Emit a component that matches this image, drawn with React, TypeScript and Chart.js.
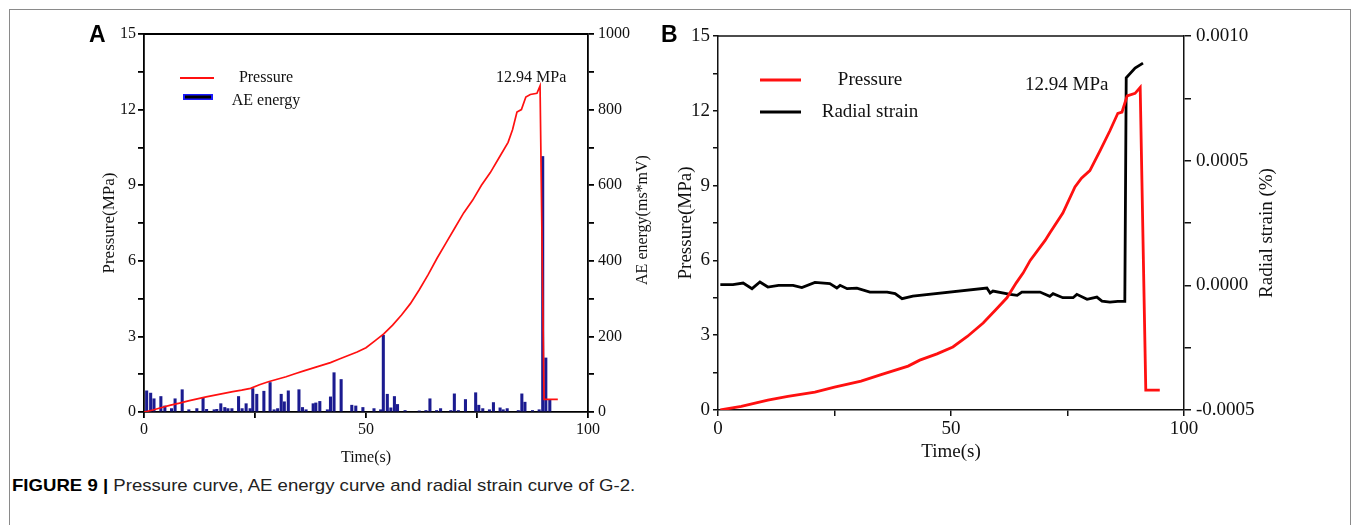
import React, { useEffect, useRef } from "react";
import { Chart, registerables } from "chart.js";

Chart.register(...registerables);

const SERIF = '"Liberation Serif", "Times New Roman", serif';
const SANS = '"Liberation Sans", Arial, sans-serif';

// ---------- Panel A: pressure (MPa) vs time (s) ----------
const timeA = [0, 2, 4, 6, 8, 10, 12, 14, 16, 18, 20, 22, 24, 26, 28, 30, 32, 34, 36, 38, 40, 42, 44, 46, 48, 50, 52, 54, 56, 58, 60, 62, 64, 66, 68, 70, 72, 74, 76, 78, 80, 82, 83, 84, 85, 86, 87, 88.5, 89.2, 90.1, 93.2];
const pressureA = [0, 0.08, 0.18, 0.27, 0.35, 0.44, 0.52, 0.6, 0.67, 0.74, 0.81, 0.87, 0.94, 1.08, 1.2, 1.3, 1.4, 1.52, 1.63, 1.74, 1.85, 1.96, 2.1, 2.24, 2.38, 2.55, 2.82, 3.1, 3.45, 3.85, 4.3, 4.85, 5.45, 6.1, 6.7, 7.3, 7.9, 8.4, 9.0, 9.5, 10.1, 10.7, 11.2, 11.9, 12.0, 12.5, 12.6, 12.65, 12.94, 0.5, 0.5];

// AE energy (ms*mV) bars
const aeTime = [0.6, 1.5, 2.25, 3.8, 4.7, 6.2, 7.0, 8.6, 10.1, 11.9, 13.3, 14.1, 15.8, 16.4, 17.3, 18.2, 18.9, 19.8, 21.3, 22.1, 23.0, 23.9, 24.5, 25.4, 27.0, 28.4, 29.3, 30.1, 30.9, 31.6, 32.5, 34.9, 35.7, 36.5, 38.1, 38.7, 39.6, 41.3, 42.0, 42.8, 44.4, 46.8, 47.7, 49.3, 51.8, 53.3, 53.9, 54.8, 55.6, 56.4, 57.1, 58.8, 62.0, 63.5, 64.4, 65.9, 66.8, 69.1, 69.9, 70.8, 72.4, 74.7, 75.4, 76.3, 77.8, 78.7, 80.2, 80.9, 81.8, 84.3, 85.1, 85.8, 87.5, 89.0, 89.8, 90.5, 91.4];
const aeEnergy = [56, 50, 35, 41, 16, 9, 35, 59, 6, 9, 37, 7, 6, 7, 22, 12, 9, 9, 41, 9, 22, 9, 62, 47, 55, 78, 6, 9, 47, 27, 56, 59, 12, 6, 22, 24, 28, 6, 40, 104, 86, 18, 16, 12, 9, 6, 203, 47, 11, 41, 20, 4, 3, 4, 35, 4, 9, 4, 48, 4, 33, 51, 18, 9, 6, 25, 11, 6, 9, 4, 48, 26, 4, 6, 676, 143, 31];

// ---------- Panel B: pressure (MPa) and radial strain (%) vs time (s) ----------
const timeB = [0.5, 5, 10.7, 15, 20.8, 25, 30.7, 35, 40.8, 43.3, 47, 50.4, 53.5, 56.9, 59.5, 62, 64, 65.5, 67, 70.2, 71.2, 74, 76.6, 78, 79.8, 82, 84.1, 85.8, 86.7, 87.8, 89.5, 90.6, 91.8, 94.8];
const pressureB = [0, 0.15, 0.4, 0.55, 0.72, 0.92, 1.16, 1.42, 1.76, 2.0, 2.25, 2.53, 2.95, 3.49, 4.0, 4.5, 5.1, 5.5, 6.0, 6.8, 7.1, 7.9, 8.95, 9.3, 9.6, 10.4, 11.2, 11.9, 11.95, 12.6, 12.7, 12.94, 0.8, 0.8];

const strainTime = [0.5, 3.2, 5.4, 7.3, 9.0, 10.7, 13.0, 16.1, 18.0, 20.8, 24.0, 25.5, 26.2, 27.7, 29.8, 32.6, 36.3, 38.0, 39.5, 41.8, 57.7, 58.4, 59.0, 62.7, 64.2, 65.2, 69.1, 71.2, 71.9, 74.0, 76.2, 77.0, 79.2, 81.3, 82.4, 84.1, 85.8, 87.3, 87.6, 89.5, 91.2];
const radialStrain = [0.0000028, 0.0000028, 0.0000093, -0.0000133, 0.0000133, -0.0000068, 0, 0, -0.0000092, 0.000012, 0.0000068, -0.0000109, 0, -0.0000133, -0.0000109, -0.000027, -0.000027, -0.0000334, -0.0000535, -0.000043, -0.0000109, -0.000031, -0.000023, -0.0000362, -0.00004, -0.000027, -0.000027, -0.000044, -0.0000334, -0.0000495, -0.0000495, -0.0000362, -0.0000563, -0.000047, -0.0000631, -0.0000672, -0.0000643, -0.0000643, 0.000832, 0.000871, 0.000891];

// tick labels
const timeTickLabels = ["0", "50", "100"];
const pressureTickLabels = ["0", "3", "6", "9", "12", "15"];
const aeTickLabels = ["0", "200", "400", "600", "800", "1000"];
const strainTickLabels = ["-0.0005", "0.0000", "0.0005", "0.0010"];

const peakLabel = "12.94 MPa";

const RED = "#ff1010";
const NAVY = "#1b1b90";
const near = (v: number, step: number) => Math.abs(v / step - Math.round(v / step)) < 1e-6;

function labelFrom(list: string[], v: number, step: number, fmt: (n: number) => string) {
  if (!near(v, step)) return "";
  const s = fmt(v);
  return list.includes(s) ? s : "";
}

const overlayA = {
  id: "overlayA",
  afterDraw(chart: any) {
    const { ctx, chartArea: ca } = chart;
    ctx.save();
    ctx.strokeStyle = "#000";
    ctx.lineWidth = 1.8;
    ctx.beginPath();
    ctx.moveTo(ca.left, ca.top);
    ctx.lineTo(ca.right, ca.top);
    ctx.stroke();
    // legend
    ctx.strokeStyle = RED;
    ctx.lineWidth = 1.8;
    ctx.beginPath();
    ctx.moveTo(120, 64);
    ctx.lineTo(154, 64);
    ctx.stroke();
    ctx.fillStyle = "#1a1aff";
    ctx.fillRect(123, 80, 30, 6);
    ctx.fillStyle = "#000";
    ctx.fillRect(125, 81.5, 26, 3);
    ctx.font = `16px ${SERIF}`;
    ctx.fillStyle = "#111";
    ctx.textAlign = "center";
    ctx.textBaseline = "middle";
    ctx.fillText("Pressure", 206, 64);
    ctx.fillText("AE energy", 206, 87);
    ctx.textAlign = "left";
    ctx.fillText(peakLabel, 436, 64);
    // right axis title (reads bottom-to-top)
    ctx.translate(583, 206);
    ctx.rotate(-Math.PI / 2);
    ctx.textAlign = "center";
    ctx.fillText("AE energy(ms*mV)", 0, 0);
    ctx.restore();
  },
};

const overlayB = {
  id: "overlayB",
  afterDraw(chart: any) {
    const { ctx, chartArea: ca } = chart;
    ctx.save();
    ctx.strokeStyle = "#111";
    ctx.lineWidth = 1.5;
    ctx.beginPath();
    ctx.moveTo(ca.left, ca.top);
    ctx.lineTo(ca.right, ca.top);
    ctx.stroke();
    ctx.lineWidth = 3;
    ctx.strokeStyle = RED;
    ctx.beginPath();
    ctx.moveTo(90, 66);
    ctx.lineTo(131, 66);
    ctx.stroke();
    ctx.strokeStyle = "#000";
    ctx.beginPath();
    ctx.moveTo(90, 98);
    ctx.lineTo(131, 98);
    ctx.stroke();
    ctx.font = `19px ${SERIF}`;
    ctx.fillStyle = "#111";
    ctx.textAlign = "center";
    ctx.textBaseline = "middle";
    ctx.fillText("Pressure", 200, 66);
    ctx.fillText("Radial strain", 200, 98);
    ctx.textAlign = "left";
    ctx.fillText(peakLabel, 355, 71);
    ctx.translate(597, 219);
    ctx.rotate(-Math.PI / 2);
    ctx.textAlign = "center";
    ctx.fillText("Radial strain (%)", 0, 0);
    ctx.restore();
  },
};

function axisBase(size: number, lw: number, color: string, tickLen: number, pad: number) {
  return {
    grid: { drawOnChartArea: false, drawTicks: true, tickLength: tickLen, color, lineWidth: lw, offset: false },
    border: { display: true, color, width: lw },
    ticks: { font: { family: SERIF, size }, color: "#111", padding: pad, autoSkip: false, maxRotation: 0, includeBounds: true },
  };
}

function makeConfigA(): any {
  const fA = 16;
  const xb = axisBase(fA, 1.8, "#000", 6, 2);
  const yb = axisBase(fA, 1.8, "#000", 6, 2);
  const rb = axisBase(fA, 1.8, "#000", 6, 4);
  return {
    type: "bar",
    data: {
      datasets: [
        {
          type: "line",
          label: "Pressure",
          data: timeA.map((t, i) => ({ x: t, y: pressureA[i] })),
          yAxisID: "y",
          borderColor: RED,
          borderWidth: 1.7,
          pointRadius: 0,
          tension: 0,
          order: 0,
        },
        {
          type: "bar",
          label: "AE energy",
          data: aeTime.map((t, i) => ({ x: t, y: aeEnergy[i] })),
          yAxisID: "y1",
          backgroundColor: NAVY,
          barThickness: 2.4,
          order: 1,
        },
      ],
    },
    options: {
      animation: false,
      responsive: false,
      maintainAspectRatio: false,
      layout: { padding: { top: 20, left: 0, right: 0, bottom: 0 } },
      plugins: { legend: { display: false }, tooltip: { enabled: false } },
      scales: {
        x: {
          type: "linear",
          position: "bottom",
          min: 0,
          max: 100,
          offset: false,
          ...xb,
          ticks: { ...xb.ticks, stepSize: 25, callback: (v: number) => labelFrom(timeTickLabels, v, 50, (n) => String(Math.round(n))) },
          title: { display: true, text: "Time(s)", font: { family: SERIF, size: fA }, color: "#111", padding: { top: 0, bottom: 6.4 } },
          afterFit: (s: any) => { s.height = 62; },
        },
        y: {
          type: "linear",
          position: "left",
          min: 0,
          max: 15,
          ...yb,
          ticks: { ...yb.ticks, stepSize: 1.5, callback: (v: number) => labelFrom(pressureTickLabels, v, 3, (n) => String(Math.round(n))) },
          title: { display: true, text: "Pressure(MPa)", font: { family: SERIF, size: 17 }, color: "#111", padding: { top: 39.8, bottom: 0 } },
          afterFit: (s: any) => { s.width = 84; },
        },
        y1: {
          type: "linear",
          position: "right",
          min: 0,
          max: 1000,
          ...rb,
          ticks: { ...rb.ticks, stepSize: 100, callback: (v: number) => labelFrom(aeTickLabels, v, 200, (n) => String(Math.round(n))) },
          afterFit: (s: any) => { s.width = 82; },
        },
      },
    },
    plugins: [overlayA],
  };
}

function makeConfigB(): any {
  const fB = 19;
  const xb = axisBase(fB, 1.5, "#111", 6, 2);
  const yb = axisBase(fB, 1.5, "#111", 5, 3);
  const rb = axisBase(fB, 1.5, "#111", 7, 5);
  return {
    type: "line",
    data: {
      datasets: [
        {
          label: "Pressure",
          data: timeB.map((t, i) => ({ x: t, y: pressureB[i] })),
          yAxisID: "y",
          borderColor: RED,
          borderWidth: 2.8,
          pointRadius: 0,
          tension: 0,
        },
        {
          label: "Radial strain",
          data: strainTime.map((t, i) => ({ x: t, y: radialStrain[i] })),
          yAxisID: "y1",
          borderColor: "#000",
          borderWidth: 2.8,
          pointRadius: 0,
          tension: 0,
        },
      ],
    },
    options: {
      animation: false,
      responsive: false,
      maintainAspectRatio: false,
      layout: { padding: { top: 22, left: 0, right: 0, bottom: 0 } },
      plugins: { legend: { display: false }, tooltip: { enabled: false } },
      scales: {
        x: {
          type: "linear",
          position: "bottom",
          min: 0,
          max: 100,
          offset: false,
          ...xb,
          ticks: { ...xb.ticks, stepSize: 25, callback: (v: number) => labelFrom(timeTickLabels, v, 50, (n) => String(Math.round(n))) },
          title: { display: true, text: "Time(s)", font: { family: SERIF, size: fB }, color: "#111", padding: { top: 0, bottom: 10.6 } },
          afterFit: (s: any) => { s.height = 64; },
        },
        y: {
          type: "linear",
          position: "left",
          min: 0,
          max: 15,
          ...yb,
          ticks: { ...yb.ticks, stepSize: 1.5, callback: (v: number) => labelFrom(pressureTickLabels, v, 3, (n) => String(Math.round(n))) },
          title: { display: true, text: "Pressure(MPa)", font: { family: SERIF, size: fB }, color: "#111", padding: { top: 4.6, bottom: 0 } },
          afterFit: (s: any) => { s.width = 48; },
        },
        y1: {
          type: "linear",
          position: "right",
          min: -0.0005,
          max: 0.001,
          ...rb,
          ticks: { ...rb.ticks, stepSize: 0.00025, callback: (v: number) => labelFrom(strainTickLabels, v, 0.0005, (n) => (Math.abs(n) < 1e-9 ? 0 : n).toFixed(4)) },
          afterFit: (s: any) => { s.width = 156; },
        },
      },
    },
    plugins: [overlayB],
  };
}

function ChartCanvas({ make, left, top, width, height }: { make: () => any; left: number; top: number; width: number; height: number }) {
  const ref = useRef<HTMLCanvasElement | null>(null);
  useEffect(() => {
    if (!ref.current) return;
    const chart = new Chart(ref.current, make());
    return () => chart.destroy();
  }, []);
  return (
    <canvas
      ref={ref}
      width={width}
      height={height}
      style={{ position: "absolute", left, top, width, height }}
    />
  );
}

export default function App() {
  return (
    <div style={{ position: "absolute", left: 0, top: 0, width: 1355, height: 525, overflow: "hidden", background: "#fff" }}>
      <div style={{ position: "absolute", left: 9, top: 9, width: 1342, height: 700, border: "1.3px solid #8a8a8a", boxSizing: "border-box" }} />
      <ChartCanvas make={makeConfigA} left={60} top={14} width={610} height={460} />
      <ChartCanvas make={makeConfigB} left={670} top={14} width={670} height={460} />
      <div style={{ position: "absolute", left: 89, top: 23, font: `bold 23px ${SANS}`, lineHeight: "23px", color: "#000" }}>A</div>
      <div style={{ position: "absolute", left: 661, top: 23, font: `bold 23px ${SANS}`, lineHeight: "23px", color: "#000" }}>B</div>
      <div style={{ position: "absolute", left: 12, top: 477, font: `18.6px ${SANS}`, lineHeight: "20px", color: "#222", whiteSpace: "nowrap", transform: "scaleY(0.88)", transformOrigin: "left top" }}>
        <b style={{ color: "#000" }}>FIGURE 9 |</b> Pressure curve, AE energy curve and radial strain curve of G-2.
      </div>
    </div>
  );
}
